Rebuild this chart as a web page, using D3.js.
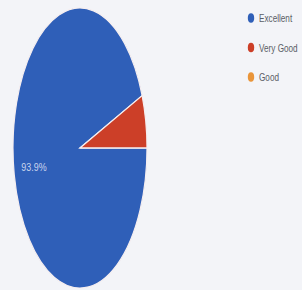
<!DOCTYPE html>
<html>
<head>
<meta charset="utf-8">
<script src="https://cdn.jsdelivr.net/npm/d3@7"></script>
<style>
  body { margin: 0; background: #f3f4f8; }
  svg { display: block; }
</style>
</head>
<body>
<div id="chart"></div>
<script>
// chart data
const categories = ['Excellent', 'Very Good', 'Good'];
const values = [93.9, 6.1, 0];
const colors = ['#2f5fb8', '#cc3f28', '#e9953a'];

const width = 302, height = 290;

const svg = d3.select('#chart')
    .append('svg')
    .attr('width', width)
    .attr('height', height);

// the pie is squashed horizontally into an ellipse
const cx = 80, cy = 148, rx = 67, ry = 140;

const pie = d3.pie()
    .sort(null)
    .startAngle(Math.PI / 2)
    .endAngle(Math.PI / 2 + 2 * Math.PI)
    .value(d => d);

const arc = d3.arc().innerRadius(0).outerRadius(ry);

const g = svg.append('g')
    .attr('transform', `translate(${cx}, ${cy}) scale(${rx / ry}, 1)`);

g.selectAll('path')
    .data(pie(values))
    .enter()
    .append('path')
    .attr('d', arc)
    .attr('fill', (d, i) => colors[i])
    .attr('stroke', '#f5eef0')
    .attr('stroke-width', 1.2)
    .attr('vector-effect', 'non-scaling-stroke');

// percentage label on the big slice
svg.append('text')
    .attr('transform', 'translate(34, 171) scale(0.85, 1)')
    .attr('text-anchor', 'middle')
    .attr('font-family', 'Liberation Sans, sans-serif')
    .attr('font-size', '10.5px')
    .attr('fill', '#c9d5ee')
    .text(values[0].toFixed(1) + '%');

// legend
const legend = svg.selectAll('.legend')
    .data(categories)
    .enter()
    .append('g')
    .attr('transform', (d, i) => `translate(251, ${18 + i * 29.5})`);

legend.append('ellipse')
    .attr('rx', 3.2)
    .attr('ry', 4.8)
    .attr('fill', (d, i) => colors[i]);

legend.append('text')
    .attr('transform', 'translate(8, 4) scale(0.78, 1)')
    .attr('font-family', 'Liberation Sans, sans-serif')
    .attr('font-size', '10.5px')
    .attr('fill', '#5a5d66')
    .text(d => d);
</script>
</body>
</html>
